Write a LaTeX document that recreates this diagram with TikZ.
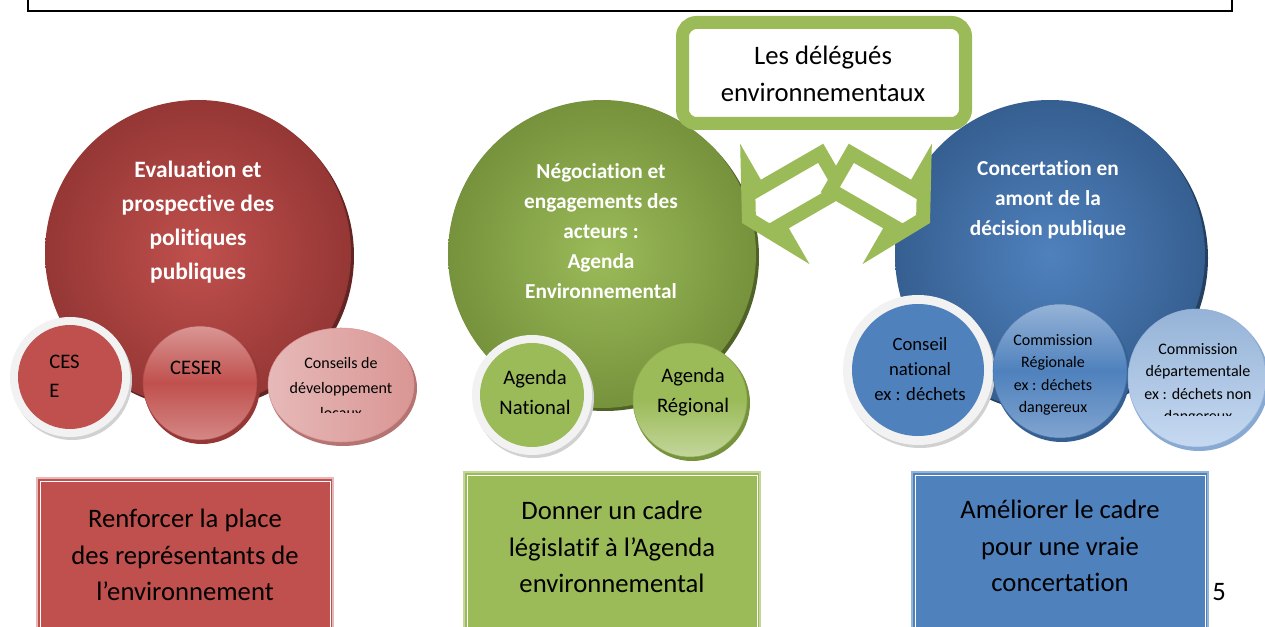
\documentclass[tikz,border=0pt]{standalone}
\usepackage{fontspec}
\setmainfont[Ligatures={NoCommon,NoRare,NoContextual}]{Carlito}
\definecolor{redc}{HTML}{C0504D}
\definecolor{redd}{HTML}{953735}
\definecolor{redsh}{HTML}{632523}
\definecolor{redl}{HTML}{D99694}
\definecolor{redll}{HTML}{E6B9B8}
\definecolor{greenc}{HTML}{9BBB59}
\definecolor{greend}{HTML}{76923C}
\definecolor{greensh}{HTML}{4F6228}
\definecolor{greenl}{HTML}{C3D69B}
\definecolor{bluec}{HTML}{4F81BD}
\definecolor{blued}{HTML}{365F91}
\definecolor{bluesh}{HTML}{244061}
\definecolor{bluel}{HTML}{95B3D7}
\definecolor{bluell}{HTML}{C6D9F1}
\definecolor{ringc}{HTML}{F2F2F2}
\newcommand{\fsz}[2]{\fontsize{#1}{#2}\selectfont}
\begin{document}
\begin{tikzpicture}[x=0.75pt,y=-0.75pt,
  titletext/.style={text=white,align=center,font=\fsz{16}{22.4}\bfseries,inner sep=0pt},
  smalltext/.style={text=black,align=center,inner sep=0pt},
  boxtext/.style={text=black,align=center,font=\fsz{20}{27.5},inner sep=0pt},
  ringshadow/.style={fill=black!18},
  ring/.style={fill=ringc},
  arrowshape/.style={draw=greenc,fill=white,line width=10.5pt,line join=miter}
]
\useasboundingbox (0,0) rectangle (1265,627);
% top frame
\draw[line width=1.5pt] (28,-3) -- (28,11) -- (1232,11) -- (1232,-3);

% ---------- big circles ----------
\fill[redsh] (201,256) circle (153);
\shade[inner color=redc, outer color=redd] (198,253) circle (153);
\fill[greensh] (605,257) circle (154);
\shade[inner color=greenc, outer color=greend] (602,254) circle (154);
\fill[bluesh] (1053,258) circle (155);
\shade[inner color=bluec, outer color=blued] (1050,255) circle (155);

\node[titletext,font=\fsz{17.6}{25.5}\bfseries] (evaltitle) at (198,222) {Evaluation et\\prospective des\\politiques\\publiques};
\node[titletext] (negotitle) at (601,231) {Négociation et\\engagements des\\acteurs :\\Agenda\\Environnemental};
\node[titletext] (conctitle) at (1048,200) {Concertation en\\amont de la\\décision publique};

% ---------- small red circles ----------
\fill[ringshadow] (72,380) circle (60);
\fill[ring] (70,377) circle (60);
\fill[redc] (70,377) circle (52);
\node[smalltext,align=left,anchor=west,font=\fsz{15.5}{21.75}] (cese) at (49,376) {CES\\E};

\fill[redd] (202,386) circle (58);
\shade[top color=redl, bottom color=redl!80!redc, middle color=redc, draw=redc!90!black] (200,383) circle (57);
\node[smalltext,font=\fsz{15.5}{20}] (ceser) at (196,368) {CESER};

\fill[redd!70] (343,388) ellipse (74 and 58);
\shade[left color=redll, right color=redl, draw=redl] (341,385) ellipse (73 and 57);
\begin{scope}
\clip (260,320) rectangle (420,413);
\node[smalltext,font=\fsz{12}{18.4}] (conseils) at (341,388) {Conseils de\\développement\\locaux};
\end{scope}

% ---------- small green circles ----------
\fill[ringshadow] (534,398) circle (60);
\fill[ring] (532,395) circle (60);
\fill[greenc] (532,395) circle (52);
\node[smalltext,font=\fsz{15.5}{22.5}] (agnat) at (535,392) {Agenda\\National};

\fill[greend] (692,403) circle (58);
\shade[top color=greenc, bottom color=greenl, middle color=greenc, draw=greenc!90!black] (690,400) circle (57);
\node[smalltext,font=\fsz{15.5}{22.5}] (agreg) at (693,392) {Agenda\\Régional};

% ---------- small blue circles ----------
\fill[ringshadow] (920,373) circle (75);
\fill[ring] (918,370) circle (75);
\fill[bluec] (918,370) circle (66);
\node[smalltext,font=\fsz{14}{19}] (connat) at (920,369) {Conseil\\national\\ex : déchets};

\fill[blued] (1062,374) circle (68);
\shade[top color=bluel, bottom color=bluel!70!bluec, middle color=bluec, draw=bluec!90!black] (1060,371) circle (67);
\node[smalltext,font=\fsz{12}{16.8}] (comreg) at (1053,375) {Commission\\Régionale\\ex : déchets\\dangereux};

\fill[bluel!80!bluec] (1199,381) circle (70);
\shade[top color=bluel, bottom color=bluell, draw=bluel] (1197,378) circle (69);
\begin{scope}
\clip (1120,300) rectangle (1265,416);
\node[smalltext,font=\fsz{12}{16.8}] (comdep) at (1198,384) {Commission\\départementale\\ex : déchets non\\dangereux};
\end{scope}

% ---------- callout ----------
\draw[draw=greenc,fill=white,line width=9.75pt,rounded corners=10.5pt] (682.5,22.5) rectangle (965.5,123.5);
\node[boxtext] (delegues) at (823,74) {Les délégués\\environnementaux};

\draw[arrowshape] (748.9,219) -- (789.8,243.9) -- (779.3,225.7) -- (841.7,189.7) -- (820.7,153.3) -- (758.3,189.3) -- (747.8,171.1) -- cycle;
\draw[arrowshape] (923.1,219) -- (882.2,243.9) -- (892.7,225.7) -- (830.3,189.7) -- (851.3,153.3) -- (913.7,189.3) -- (924.2,171.1) -- cycle;

% ---------- bottom boxes ----------
\fill[redc] (37,478) rectangle (333,640);
\draw[redll,line width=1.2pt] (37,478) rectangle (333,640);
\draw[white,line width=0.6pt] (40,481) rectangle (330,640);
\node[boxtext] (redbox) at (185,555) {Renforcer la place\\des représentants de\\l’environnement};

\fill[greenc] (464,472) rectangle (760,640);
\draw[greenl,line width=1.2pt] (464,472) rectangle (760,640);
\draw[white,line width=0.6pt] (467,475) rectangle (757,640);
\node[boxtext] (greenbox) at (612,547) {Donner un cadre\\législatif à l’Agenda\\environnemental};

\fill[bluec] (912,472) rectangle (1208,640);
\draw[bluel,line width=1.2pt] (912,472) rectangle (1208,640);
\draw[white,line width=0.6pt] (915,475) rectangle (1205,640);
\node[boxtext] (bluebox) at (1060,546) {Améliorer le cadre\\pour une vraie\\concertation};

\node[boxtext] (pagenum) at (1219,592) {5};
\end{tikzpicture}
\end{document}
